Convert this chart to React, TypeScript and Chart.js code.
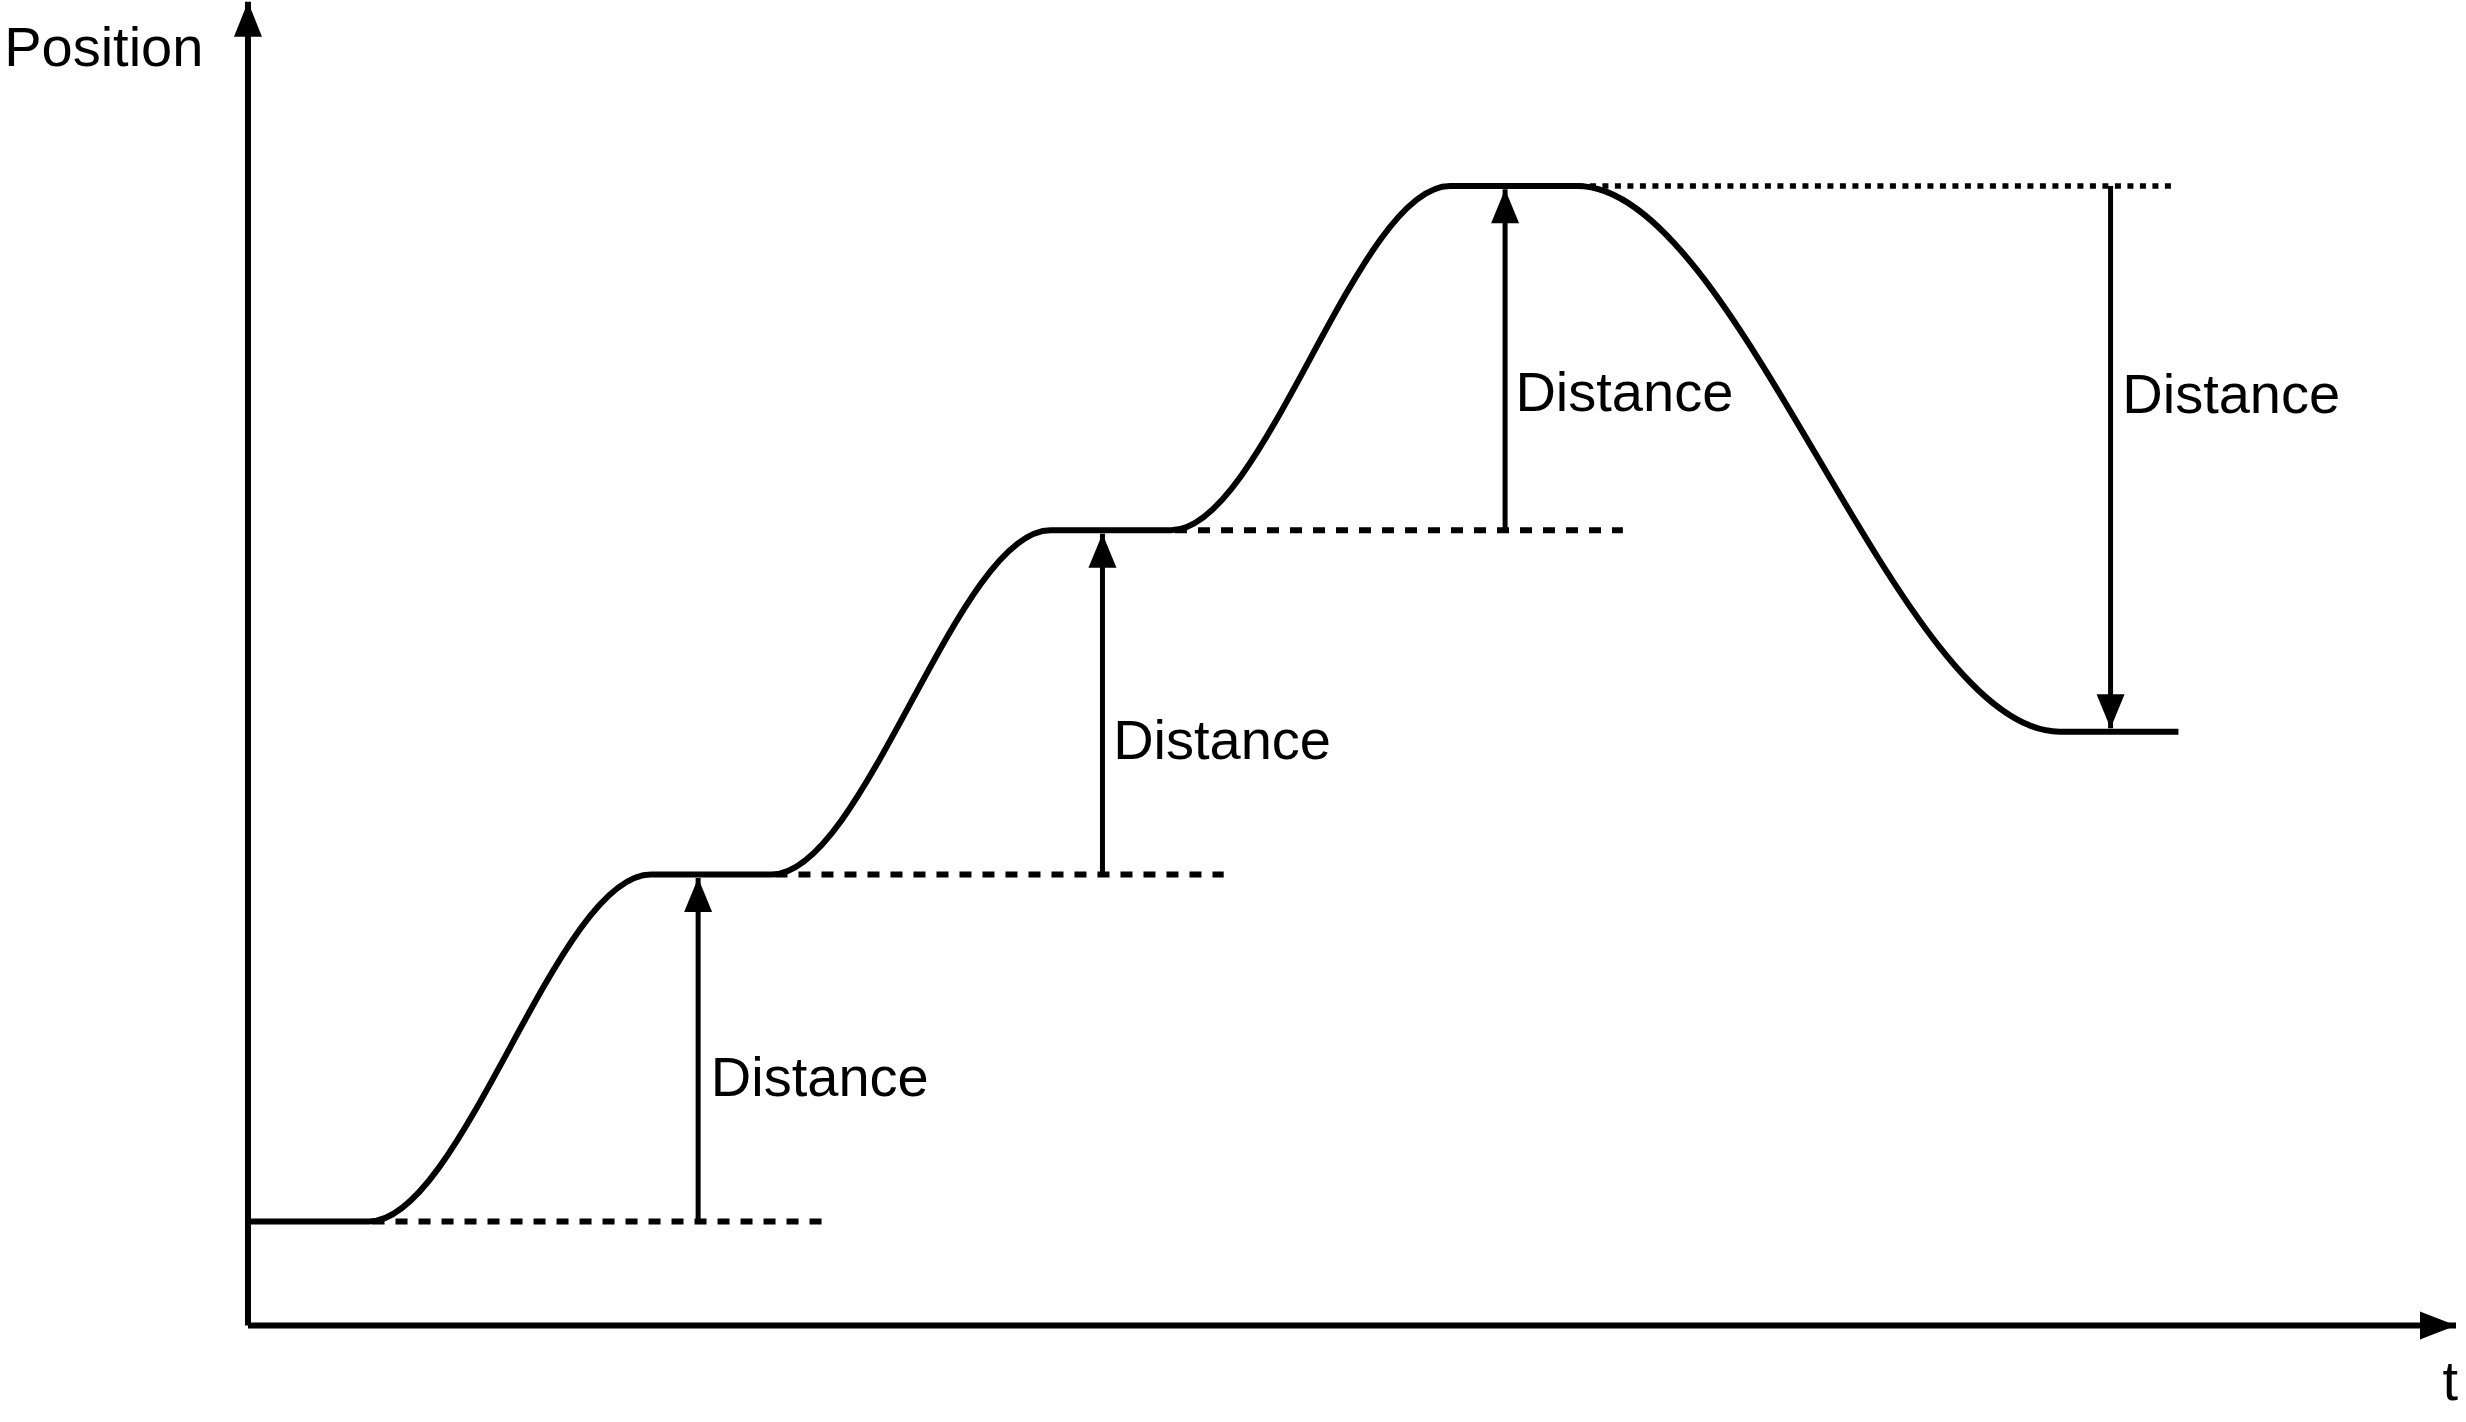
import { useEffect, useRef } from "react";
import { Chart, registerables } from "chart.js";

Chart.register(...registerables);

// ---- Data (abstract time / position units) ----
const T_MIN = -7.2;
const T_MAX = 64.4;
const P_MIN = -2.8;
const P_MAX = 38.5;

// Position-vs-time motion profile (flat dwell, S-shaped move, dwell, ...)
const curveTimes = [0, 3.5, 11.7, 15.2, 23.3, 26.8, 34.9, 38.6, 52.6, 56.05];
const curvePositions = [3.02, 3.02, 13.1, 13.1, 23.1, 23.1, 33.1, 33.1, 17.25, 17.25];

// Horizontal reference (dashed / dotted) lines
const guideStarts = [3.5, 15.2, 26.8, 38.6];
const guideEnds = [16.77, 28.33, 39.92, 55.86];
const guideLevels = [3.02, 13.1, 23.1, 33.1];

// "Distance" arrows
const arrowTimes = [13.07, 24.81, 36.5, 54.08];
const arrowFrom = [3.02, 13.1, 23.1, 33.1];
const arrowTo = [13.0, 23.0, 33.0, 17.35];

// Labels
const distanceLabel = "Distance";
const labelTimes = [13.44, 25.12, 36.8, 54.42];
const labelPositions = [7.13, 16.89, 27.0, 26.94];
const axisTitles = ["Position", "t"];
const axisTitleTimes = [-7.08, 63.94];
const axisTitlePositions = [37.04, -1.7];

// Axis extents
const yAxisTop = 38.45;
const xAxisEnd = 64.11;

const FONT = '56px "Liberation Sans", Arial, Helvetica, sans-serif';

const arrowPlugin = {
  id: "arrowsAndLabels",
  afterDatasetsDraw(chart: any) {
    const { ctx, scales } = chart;
    const xs = scales.x;
    const ys = scales.y;
    const head = (tx: number, ty: number, fx: number, fy: number, len: number, half: number) => {
      const px = xs.getPixelForValue(tx);
      const py = ys.getPixelForValue(ty);
      const qx = xs.getPixelForValue(fx);
      const qy = ys.getPixelForValue(fy);
      const dx = px - qx;
      const dy = py - qy;
      const d = Math.hypot(dx, dy) || 1;
      const ux = dx / d;
      const uy = dy / d;
      const bx = px - ux * len;
      const by = py - uy * len;
      ctx.save();
      ctx.fillStyle = "#000";
      ctx.beginPath();
      ctx.moveTo(px, py);
      ctx.lineTo(bx - uy * half, by + ux * half);
      ctx.lineTo(bx + uy * half, by - ux * half);
      ctx.closePath();
      ctx.fill();
      ctx.restore();
    };
    for (let i = 0; i < arrowTimes.length; i++) {
      head(arrowTimes[i], arrowTo[i], arrowTimes[i], arrowFrom[i], 34, 14);
    }
    head(0, yAxisTop, 0, 0, 35, 14);
    head(xAxisEnd, 0, 0, 0, 36, 14);

    ctx.save();
    ctx.fillStyle = "#000";
    ctx.font = FONT;
    ctx.textBaseline = "middle";
    ctx.textAlign = "left";
    for (let i = 0; i < labelTimes.length; i++) {
      ctx.fillText(distanceLabel, xs.getPixelForValue(labelTimes[i]), ys.getPixelForValue(labelPositions[i]));
    }
    ctx.fillText(axisTitles[0], xs.getPixelForValue(axisTitleTimes[0]), ys.getPixelForValue(axisTitlePositions[0]));
    ctx.textAlign = "center";
    ctx.fillText(axisTitles[1], xs.getPixelForValue(axisTitleTimes[1]), ys.getPixelForValue(axisTitlePositions[1]));
    ctx.restore();
  },
};

export default function App() {
  const ref = useRef<HTMLCanvasElement | null>(null);

  useEffect(() => {
    const canvas = ref.current;
    if (!canvas) return;

    const datasets: any[] = [];
    datasets.push({
      label: "Position",
      data: curveTimes.map((t, i) => ({ x: t, y: curvePositions[i] })),
      borderColor: "#000",
      borderWidth: 6,
      cubicInterpolationMode: "monotone",
      pointRadius: 0,
      fill: false,
    });
    guideLevels.forEach((lv, i) => {
      const dotted = i === guideLevels.length - 1;
      datasets.push({
        label: "guide" + i,
        data: [
          { x: guideStarts[i], y: lv },
          { x: guideEnds[i], y: lv },
        ],
        borderColor: "#000",
        borderWidth: dotted ? 5.5 : 6,
        borderDash: dotted ? [6, 6.5] : [12, 11],
        borderDashOffset: dotted ? 0 : -4,
        pointRadius: 0,
        tension: 0,
        fill: false,
      });
    });
    arrowTimes.forEach((t, i) => {
      datasets.push({
        label: "arrow" + i,
        data: [
          { x: t, y: arrowFrom[i] },
          { x: t, y: arrowTo[i] },
        ],
        borderColor: "#000",
        borderWidth: 5,
        pointRadius: 0,
        tension: 0,
        fill: false,
      });
    });
    datasets.push({
      label: "yAxis",
      data: [
        { x: 0, y: 0 },
        { x: 0, y: yAxisTop },
      ],
      borderColor: "#000",
      borderWidth: 6,
      pointRadius: 0,
      fill: false,
    });
    datasets.push({
      label: "xAxis",
      data: [
        { x: 0, y: 0 },
        { x: xAxisEnd, y: 0 },
      ],
      borderColor: "#000",
      borderWidth: 6,
      pointRadius: 0,
      fill: false,
    });

    const chart = new Chart(canvas, {
      type: "line",
      data: { datasets },
      options: {
        animation: false,
        responsive: false,
        devicePixelRatio: 1,
        events: [],
        layout: { padding: 0 },
        plugins: {
          legend: { display: false },
          tooltip: { enabled: false },
          title: { display: false },
        },
        scales: {
          x: { type: "linear", min: T_MIN, max: T_MAX, display: false },
          y: { type: "linear", min: P_MIN, max: P_MAX, display: false },
        },
      },
      plugins: [arrowPlugin],
    } as any);

    return () => chart.destroy();
  }, []);

  return (
    <div style={{ position: "fixed", left: 0, top: 0, width: 2466, height: 1422, background: "#fff" }}>
      <canvas ref={ref} width={2466} height={1422} style={{ display: "block" }} />
    </div>
  );
}
